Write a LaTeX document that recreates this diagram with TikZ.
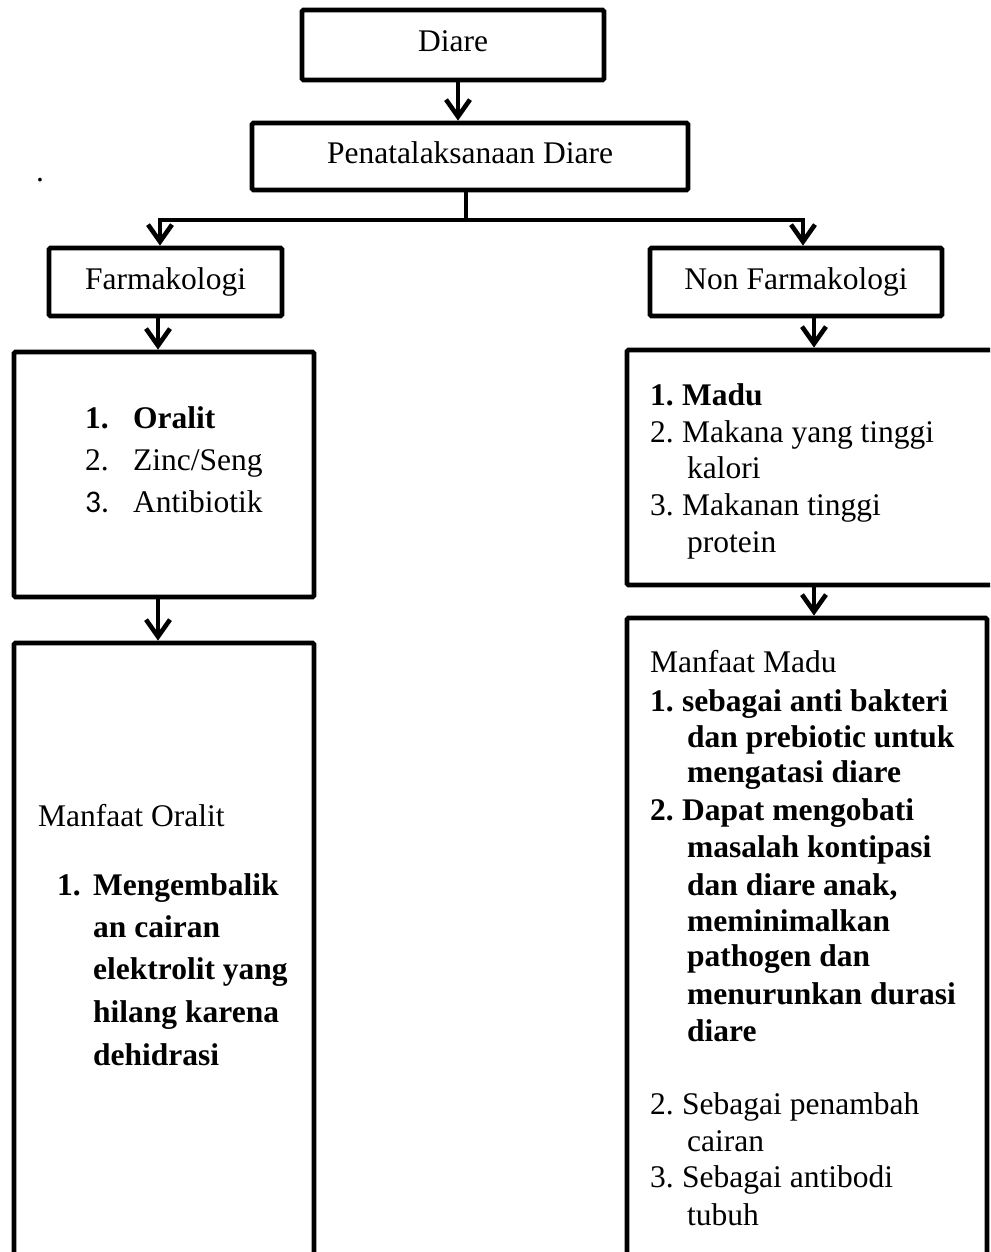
\documentclass[tikz,border=0pt]{standalone}
\usepackage{fontspec}
\setmainfont{Liberation Serif}
\newfontfamily\calib{Carlito}
\usetikzlibrary{arrows.meta}
\newcommand\Tline[4]{\node[ln] (#1) at (#2,#3) {#4};}
\begin{document}
\begin{tikzpicture}[x=1pt,y=-1pt,
  box/.style={draw, line width=4.8pt, rounded corners=1.5pt, inner sep=0pt},
  lbl/.style={text height=21pt, text depth=7pt},
  conn/.style={line width=3.5pt},
  arr/.style={conn, -{Straight Barb[length=17pt,width=24pt,line width'=4.6pt]}},
  ln/.style={anchor=base west, inner sep=0pt},
  font=\fontsize{31.5}{36}\selectfont]
\useasboundingbox (0,0) rectangle (990,1252);
\clip (0,0) rectangle (990,1252);
% boxes
\node[box,lbl,minimum width=302pt,minimum height=70pt] (diare) at (453,45) {Diare};
\node[box,lbl,minimum width=436pt,minimum height=67pt] (pen) at (470,156.5) {Penatalaksanaan Diare};
\node[box,lbl,minimum width=233pt,minimum height=68pt] (farm) at (165.5,282) {Farmakologi};
\node[box,lbl,minimum width=292pt,minimum height=68pt] (nfarm) at (796,282) {Non Farmakologi};
\node[box,minimum width=300pt,minimum height=245pt] (llist) at (164,474.5) {};
\node[box,minimum width=383pt,minimum height=235pt] (rlist) at (818.5,467.5) {};
\node[box,minimum width=300pt,minimum height=637pt] (lbot) at (164,961.5) {};
\node[box,minimum width=360pt,minimum height=662pt] (rbot) at (807,949) {};
% connectors
\draw[arr] ([xshift=5pt]diare.south) -- ([xshift=5pt]diare.south |- pen.north);
\coordinate (j) at (466,220);
\coordinate (jl) at (160,220);
\coordinate (jr) at (803,220);
\draw[conn] (j |- pen.south) -- (j);
\draw[arr] (j) -- (jl) -- (jl |- farm.north);
\draw[arr] (j) -- (jr) -- (jr |- nfarm.north);
\draw[arr] ([xshift=-7.5pt]farm.south) -- ([xshift=-7.5pt]farm.south |- llist.north);
\draw[arr] ([xshift=18pt]nfarm.south) -- ([xshift=18pt]nfarm.south |- rlist.north);
\draw[arr] ([xshift=-6pt]llist.south) -- ([xshift=-6pt]llist.south |- lbot.north);
\draw[arr] ([xshift=-4.5pt]rlist.south) -- ([xshift=-4.5pt]rlist.south |- rbot.north);
% stray dot
\Tline{dot}{36}{182}{.}
% left list
\Tline{a1n}{85}{428}{\bfseries 1.}
\Tline{a1}{133}{428}{\bfseries Oralit}
\Tline{a2n}{85}{470}{2.}
\Tline{a2}{133}{470}{Zinc/Seng}
\Tline{a3n}{85}{512}{\calib 3.}
\Tline{a3}{133}{512}{Antibiotik}
% right list
\Tline{b1n}{650}{405}{\bfseries 1.}
\Tline{b1}{682}{405}{\bfseries Madu}
\Tline{b2n}{650}{442}{2.}
\Tline{b2}{682}{442}{Makana yang tinggi}
\Tline{b3}{687}{478}{kalori}
\Tline{b4n}{650}{515}{3.}
\Tline{b4}{682}{515}{Makanan tinggi}
\Tline{b5}{687}{552}{protein}
% right bottom
\Tline{c0}{650}{672}{Manfaat Madu}
\Tline{c1n}{650}{711}{\bfseries 1.}
\Tline{c1}{682}{711}{\bfseries sebagai anti bakteri}
\Tline{c2}{687}{747.5}{\bfseries dan prebiotic untuk}
\Tline{c3}{687}{782}{\bfseries mengatasi diare}
\Tline{c4n}{650}{820.5}{\bfseries 2.}
\Tline{c4}{682}{820.5}{\bfseries Dapat mengobati}
\Tline{c5}{687}{857}{\bfseries masalah kontipasi}
\Tline{c6}{687}{895}{\bfseries dan diare anak,}
\Tline{c7}{687}{931}{\bfseries meminimalkan}
\Tline{c8}{687}{966.5}{\bfseries pathogen dan}
\Tline{c9}{687}{1004}{\bfseries menurunkan durasi}
\Tline{c10}{687}{1041}{\bfseries diare}
\Tline{c11n}{650}{1114}{2.}
\Tline{c11}{682}{1114}{Sebagai penambah}
\Tline{c12}{687}{1151}{cairan}
\Tline{c13n}{650}{1187}{3.}
\Tline{c13}{682}{1187}{Sebagai antibodi}
\Tline{c14}{687}{1225}{tubuh}
% left bottom
\Tline{d0}{38}{826}{Manfaat Oralit}
\Tline{d1n}{57}{895}{\bfseries 1.}
\Tline{d1}{93}{895}{\bfseries Mengembalik}
\Tline{d2}{93}{937}{\bfseries an cairan}
\Tline{d3}{93}{979}{\bfseries elektrolit yang}
\Tline{d4}{93}{1022}{\bfseries hilang karena}
\Tline{d5}{93}{1065}{\bfseries dehidrasi}
\end{tikzpicture}
\end{document}
